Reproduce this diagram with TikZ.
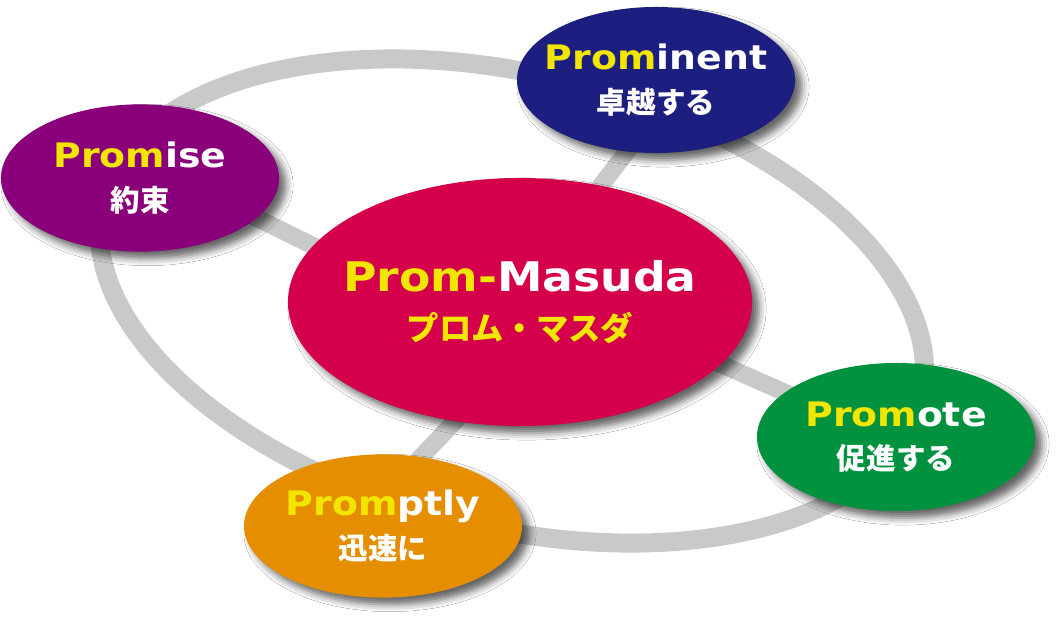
\documentclass[tikz,border=0pt]{standalone}
\usepackage{tikz}
\usetikzlibrary{shapes.geometric,shadows.blur}
\usepackage{xcolor}
\usepackage{fontspec}
\newfontfamily\enfont{DejaVu Sans}[FakeStretch=1.12]
\newfontfamily\jafont{Noto Sans CJK JP}
\definecolor{PromRed}{RGB}{213,0,76}
\definecolor{PromPurple}{RGB}{138,0,122}
\definecolor{PromNavy}{RGB}{29,31,128}
\definecolor{PromGreen}{RGB}{0,146,63}
\definecolor{PromOrange}{RGB}{229,142,0}
\definecolor{PromYellow}{RGB}{242,230,0}
\definecolor{RingGray}{RGB}{200,202,201}
\newcommand{\promhl}[1]{\textcolor{PromYellow}{#1}}
\newcommand{\subja}{\jafont\bfseries\fontsize{21}{21}\selectfont}
\tikzset{
  bubble/.style={ellipse,inner xsep=-0.6cm,inner ysep=0pt,minimum width=6.95cm,minimum height=3.65cm,
    text=white,align=center,font=\enfont\bfseries\fontsize{24}{31}\selectfont,
    blur shadow={shadow xshift=5pt,shadow yshift=-5pt,shadow blur radius=5pt,
      shadow opacity=60}},
  hubbubble/.style={bubble,minimum width=11.6cm,minimum height=6.2cm,
    font=\enfont\bfseries\fontsize{29}{36}\selectfont},
  ringline/.style={draw=RingGray,line width=13.5pt},
  spoke/.style={draw=RingGray,line width=12.4pt},
}

\begin{document}
\begin{tikzpicture}[x=0.025cm,y=-0.025cm]
  \fill[white] (0,0) rectangle (1056,619);
  \useasboundingbox (0,0) rectangle (1056,619);
  \draw[ringline,rotate around={-13.7:(512,301)}] (512,301) ellipse [x radius=421,y radius=227];
  \coordinate (hub) at (520,302);
  \coordinate (c1) at (140,178);
  \coordinate (c2) at (656,80);
  \coordinate (c3) at (896,437);
  \coordinate (c4) at (383,526);
  \draw[spoke] ([shift={(60,12)}]c1) -- ([shift={(-160,-33)}]hub);
  \draw[spoke] ([shift={(-5,40)}]c2) -- ([shift={(47,-72)}]hub);
  \draw[spoke] ([shift={(160,44)}]hub) -- ([shift={(-56,-20)}]c3);
  \draw[spoke] ([shift={(-40,93)}]hub) -- ([shift={(17,-47)}]c4);
  \node[hubbubble,fill=PromRed] (main) at (hub) {\promhl{Prom-}Masuda\\[-1pt]{\jafont\bfseries\fontsize{23}{23}\selectfont\promhl{プロム・マスダ}}};
  \node[bubble,fill=PromPurple,minimum height=3.68cm] (promise) at (c1) {\promhl{Prom}ise\\{\subja 約束}};
  \node[bubble,fill=PromNavy] (prominent) at (c2) {\promhl{Prom}inent\\{\subja 卓越する}};
  \node[bubble,fill=PromGreen,minimum height=3.7cm] (promote) at (c3) {\promhl{Prom}ote\\{\subja 促進する}};
  \node[bubble,fill=PromOrange,minimum height=3.58cm] (promptly) at (c4) {\promhl{Prom}ptly\\{\subja 迅速に}};
\end{tikzpicture}
\end{document}
